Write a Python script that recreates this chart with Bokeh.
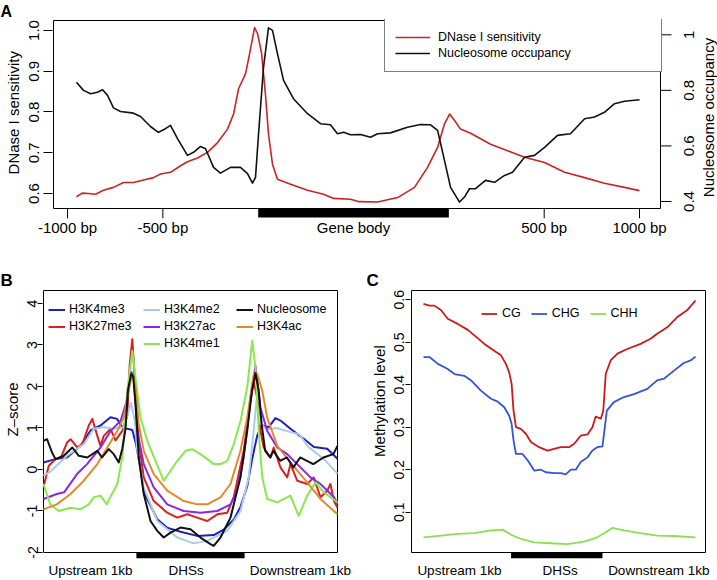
import math
from bokeh.plotting import figure
from bokeh.models import Range1d, Legend, LegendItem, Title
from bokeh.core.properties import value
from bokeh.layouts import column, row
from bokeh.embed import file_html
from bokeh.resources import INLINE

FONT = "Liberation Sans"

# ---------------- Panel A data (x: 0..1000 upstream, 1000..2000 gene body, 2000..3000 downstream)
a_x_dnase = [47, 77, 110, 147, 189, 241, 294, 346, 399, 451, 488, 540, 593, 629, 682, 734, 787, 839, 871, 897,
             934, 955, 981, 997, 1018, 1038, 1054, 1075, 1101, 1170, 1259, 1343, 1395, 1484, 1530, 1626, 1731, 1820,
             1888, 1941, 1977, 2004, 2030, 2061, 2114, 2219, 2308, 2397, 2502, 2607, 2712, 2816, 2921, 3000]
a_dnase = [0.592, 0.601, 0.600, 0.598, 0.608, 0.615, 0.627, 0.627, 0.633, 0.639, 0.648, 0.652, 0.668, 0.678, 0.687,
           0.701, 0.725, 0.758, 0.795, 0.857, 0.894, 0.943, 1.007, 0.992, 0.943, 0.844, 0.746, 0.672, 0.635, 0.623,
           0.608, 0.598, 0.588, 0.586, 0.580, 0.579, 0.590, 0.615, 0.664, 0.713, 0.771, 0.795, 0.779, 0.758, 0.748,
           0.721, 0.705, 0.689, 0.676, 0.652, 0.639, 0.625, 0.615, 0.607]
a_x_nuc = [47, 84, 121, 157, 184, 210, 241, 278, 346, 383, 435, 477, 514, 540, 577, 629, 661, 698, 724, 766, 802,
           855, 907, 944, 970, 986, 1002, 1028, 1054, 1075, 1101, 1133, 1185, 1259, 1327, 1379, 1416, 1448, 1484,
           1537, 1589, 1626, 1694, 1783, 1851, 1904, 1941, 1977, 2009, 2056, 2082, 2108, 2140, 2192, 2240, 2292,
           2334, 2397, 2449, 2502, 2570, 2638, 2712, 2764, 2816, 2869, 2921, 3000]
a_nuc = [0.829, 0.800, 0.788, 0.793, 0.802, 0.782, 0.737, 0.724, 0.718, 0.706, 0.670, 0.649, 0.662, 0.674, 0.626,
         0.566, 0.577, 0.598, 0.590, 0.523, 0.502, 0.523, 0.523, 0.500, 0.466, 0.487, 0.644, 0.883, 1.025, 1.016,
         0.932, 0.836, 0.770, 0.716, 0.680, 0.676, 0.644, 0.649, 0.640, 0.641, 0.631, 0.644, 0.647, 0.667, 0.677,
         0.676, 0.656, 0.548, 0.451, 0.398, 0.416, 0.446, 0.446, 0.476, 0.469, 0.494, 0.505, 0.559, 0.566, 0.595,
         0.638, 0.644, 0.698, 0.704, 0.721, 0.752, 0.761, 0.766]
a_label_pos = [0, 500, 1500, 2500, 3000]
a_labels = ["-1000 bp", "-500 bp", "Gene body", "500 bp", "1000 bp"]
a_tick_marks = [0, 500, 2500, 3000]
a_gene_body = [1000, 2000]
a_left_ticks = [0.6, 0.7, 0.8, 0.9, 1.0]
a_left_labels = ["0.6", "0.7", "0.8", "0.9", "1.0"]
a_right_ticks = [0.4, 0.6, 0.8, 1.0]
a_right_labels = ["0.4", "0.6", "0.8", "1"]

# ---------------- Panel B data (x: % of profile; DHS spans b_dhs)
b_h3k4me3_x = [0, 4, 8, 12.6, 16, 19.4, 22.8, 25, 26.8, 28.5, 30.2, 31.5, 33, 34.1, 36.4, 38.7, 42, 46.6, 52.3, 57.9,
               61.3, 64.8, 67, 69.3, 71, 72.7, 74.4, 76.6, 78.9, 80.6, 84, 88.5, 92, 96.5, 100]
b_h3k4me3 = [0.17, 0.25, 0.29, 0.57, 0.94, 1.06, 1.26, 1.22, 1.02, 0.98, 0.95, 0.6, 0.01, -0.55, -0.87, -1.2, -1.4,
             -1.5, -1.6, -1.58, -1.45, -1.2, -0.9, -0.4, 0.26, 0.82, 1.06, 1.02, 1.24, 1.18, 0.98, 0.74, 0.54, 0.5, 0.26]
b_h3k27me3_x = [0, 1.8, 4.1, 6, 8, 9.2, 11.5, 13.2, 15.4, 16.6, 18.3, 19.4, 20.5, 22.8, 24.5, 26.8, 28.5, 29.3, 30.2,
                31.3, 32.4, 34.1, 37.5, 42.1, 45.5, 48.9, 52.3, 55.7, 59.1, 62.5, 64.7, 68.1, 70.4, 71.5, 72.7, 73.8,
                74.9, 77.2, 78.3, 80.6, 82.9, 84, 86.3, 89.7, 91.9, 94.2, 96.5, 97.6, 98.8, 100]
b_h3k27me3 = [-0.42, 0.09, 0.25, 0.3, 0.65, 0.73, 0.53, 0.61, 1.06, 1.22, 0.81, 0.57, 0.81, 0.98, 0.7, 0.93, 1.3, 2.5,
              3.14, 1.9, 0.69, -0.19, -0.76, -1.04, -1.16, -1.08, -1.16, -1.24, -1.08, -1.04, -0.67, 0.45, 1.65, 2.1,
              1.73, 0.93, 0.53, 0.29, 0.53, 0.05, -0.19, 0.13, -0.27, -0.35, -0.19, -0.67, -0.51, -0.35, -0.76, -0.92]
b_h3k4me2_x = [0, 2.4, 8, 13.7, 17.1, 20.5, 23.9, 27.3, 28.5, 29.8, 31, 31.9, 34.1, 38.7, 45.5, 51.1, 55.7, 62.5, 67,
               69.8, 71.5, 72.4, 73.8, 76.1, 79.5, 84, 87, 90, 95.4, 100]
b_h3k4me2 = [-0.15, -0.05, 0.33, 0.61, 0.98, 1.02, 0.98, 1.02, 1.3, 1.6, 1.2, 0.45, -0.43, -1.24, -1.64, -1.78, -1.72,
             -1.48, -1.0, -0.19, 0.93, 1.65, 1.09, 0.97, 1.0, 0.9, 0.85, 0.55, 0.25, -0.1]
b_h3k27ac_x = [0, 4.5, 7, 11.4, 14.8, 19.4, 22.8, 26.2, 28.5, 29.8, 30.6, 31.9, 34.1, 37.5, 42.1, 47.7, 53.4, 59.1,
               63.6, 65.8, 68.1, 70.4, 72.1, 73.8, 76.1, 79.5, 82.9, 86.3, 90.8, 94.2, 98.8, 100]
b_h3k27ac = [-0.71, -0.59, -0.55, -0.11, 0.13, 0.53, 0.93, 1.17, 1.7, 2.35, 2.3, 0.93, 0.13, -0.43, -0.84, -1.0,
             -1.04, -1.0, -0.84, -0.51, 0.29, 1.73, 2.5, 1.49, 0.93, 0.53, 0.37, 0.13, -0.19, -0.35, -0.67, -0.83]
b_h3k4me1_x = [0, 2.3, 5.2, 9.2, 12.6, 15.4, 17.1, 19.4, 21.5, 23.2, 25.1, 26.8, 28.5, 30.2, 31.3, 33, 35.3, 38.1,
               40.9, 43.2, 45.5, 48.3, 50.5, 53.4, 55.7, 57.9, 60.2, 62.5, 64.7, 67, 69.3, 71, 72.1, 73.2, 74.4, 76.1,
               79.5, 84, 86.8, 89.7, 92.5, 95.4, 100]
b_h3k4me1 = [-0.35, -0.84, -1.0, -0.92, -0.96, -0.84, -0.67, -0.63, -0.84, -0.6, -0.35, 0.29, 1.9, 2.86, 2.2, 1.25,
             0.69, 0.21, -0.27, -0.03, 0.21, 0.45, 0.49, 0.37, 0.25, 0.13, 0.13, 0.21, 0.61, 1.17, 1.98, 3.1, 2.46,
             0.93, -0.19, -0.71, -0.79, -0.63, -1.12, -0.63, -0.31, -0.55, -0.79]
b_nuc_x = [0, 1.2, 2.9, 4.1, 6.9, 9.8, 12.0, 14.9, 18.3, 19.9, 22.2, 23.9, 25.6, 26.8, 27.9, 28.7, 29.8, 30.5, 31.4,
           32.4, 34.1, 36.4, 38.7, 40.9, 43.2, 46.6, 50, 53.4, 56.8, 57.9, 60.2, 63.6, 67, 69.3, 70.9, 72.1, 73.2,
           74.2, 75.4, 77.1, 78.2, 80.5, 82.8, 85, 87.3, 89.6, 91.8, 95.2, 98.6, 100]
b_nuc = [0.69, 0.73, 0.41, 0.25, 0.33, 0.53, 0.33, 0.29, 0.45, 0.29, 0.49, 0.37, 0.17, 0.5, 0.98, 1.9, 2.3, 2.25, 1.5,
         0.29, -0.59, -1.24, -1.48, -1.64, -1.52, -1.4, -1.44, -1.64, -1.8, -1.84, -1.64, -1.16, -0.19, 0.93, 1.9,
         2.32, 1.9, 1.09, 0.45, 0.29, 0.45, 0.21, 0.29, 0.05, 0.29, 0.21, 0.13, 0.29, 0.37, 0.57]
b_h3k4ac_x = [0, 4.5, 9.2, 13.7, 18.3, 21.7, 25.1, 27.3, 28.9, 30.2, 31.3, 32.4, 34.1, 37.5, 42.1, 47.7, 52.3, 55.7,
              60.2, 63.6, 67, 69.3, 71.5, 72.7, 74.4, 76.1, 79.5, 84, 89.7, 94.2, 100]
b_h3k4ac = [-0.96, -0.84, -0.59, -0.27, 0.13, 0.53, 0.93, 1.25, 1.9, 2.3, 2.0, 1.09, 0.45, -0.11, -0.51, -0.76, -0.84,
            -0.84, -0.67, -0.35, 0.45, 1.25, 2.3, 2.3, 1.9, 1.25, 0.57, 0.17, -0.31, -0.71, -1.08]
b_dhs = [31.6, 68.4]
b_yticks = [-2, -1, 0, 1, 2, 3, 4]
b_label_pos = [16, 48.5, 87.4]
bc_labels = ["Upstream 1kb", "DHSs", "Downstream 1kb"]

# ---------------- Panel C data
c_cg_x = [0, 2.2, 4.0, 6.5, 8.9, 12.6, 16.3, 18.7, 22.4, 26.0, 28.5, 30.3, 31.5, 32.4, 33.1, 34.0, 35.8, 37.7, 39.5,
          42.5, 45.6, 48.0, 50.5, 53.5, 55.4, 57.8, 60.3, 62.1, 63.3, 65.2, 66.1, 67.0, 68.8, 71.3, 74.9, 79.8, 83.5,
          85.9, 89.6, 93.3, 96.9, 100]
c_cg = [0.59, 0.586, 0.586, 0.575, 0.555, 0.543, 0.529, 0.516, 0.496, 0.48, 0.469, 0.449, 0.429, 0.402, 0.339, 0.3,
        0.296, 0.284, 0.265, 0.253, 0.245, 0.249, 0.253, 0.253, 0.261, 0.28, 0.283, 0.3, 0.325, 0.32, 0.339, 0.425,
        0.457, 0.473, 0.484, 0.496, 0.508, 0.52, 0.535, 0.559, 0.575, 0.598]
c_chg_x = [0, 2.2, 5.3, 8.9, 11.4, 15.0, 17.5, 21.1, 24.8, 27.3, 29.7, 31.5, 32.4, 33.1, 34.0, 36.4, 38.3, 40.7, 43.2,
           45.0, 48.0, 50.5, 52.3, 54.2, 56.0, 57.8, 60.3, 62.1, 63.9, 65.8, 67.4, 70.0, 73.7, 77.4, 82.3, 85.9, 88.4,
           92.1, 95.7, 98.2, 100]
c_chg = [0.465, 0.465, 0.449, 0.437, 0.425, 0.421, 0.41, 0.386, 0.367, 0.36, 0.347, 0.327, 0.308, 0.269, 0.237, 0.237,
         0.222, 0.198, 0.2, 0.194, 0.192, 0.192, 0.189, 0.2, 0.2, 0.218, 0.229, 0.245, 0.253, 0.255, 0.339, 0.359,
         0.371, 0.378, 0.39, 0.41, 0.414, 0.433, 0.451, 0.457, 0.466]
c_chh_x = [0, 6.5, 12.6, 18.7, 24.8, 29.1, 32.2, 35.8, 40.7, 46.8, 52.9, 59.0, 63.9, 67.0, 69.4, 73.7, 79.8, 85.9,
           92.1, 100]
c_chh = [0.041, 0.045, 0.049, 0.051, 0.057, 0.059, 0.047, 0.037, 0.029, 0.027, 0.025, 0.031, 0.041, 0.053, 0.063,
         0.057, 0.051, 0.045, 0.044, 0.041]
c_dhs = [32.2, 65.8]
c_yticks = [0.1, 0.2, 0.3, 0.4, 0.5, 0.6]
c_ylabels = ["0.1", "0.2", "0.3", "0.4", "0.5", "0.6"]
c_label_pos = [13.2, 50.2, 86.5]

NBSP = "\u00a0"


# ---------------- helpers
def rng(v0, v1, npx, pad_lo, pad_hi):
    u = (v1 - v0) / npx
    return Range1d(v0 - pad_lo * u, v1 + pad_hi * u)


def make_fig(width, height, left, top, fw, fh, xr, yr):
    p = figure(width=width, height=height, x_range=xr, y_range=yr, output_backend="svg",
               toolbar_location=None, min_border_left=left, min_border_top=top,
               min_border_right=width - left - fw, min_border_bottom=height - top - fh)
    p.xgrid.visible = False
    p.ygrid.visible = False
    p.outline_line_color = None
    p.background_fill_color = "white"
    p.border_fill_color = "white"
    return p


def style_y(ax, ticks, labels, size, tick_out, standoff, title, title_standoff):
    ax.ticker = ticks
    ax.major_label_overrides = {t: l for t, l in zip(ticks, labels)}
    ax.axis_line_color = None
    ax.major_tick_in = 0
    ax.major_tick_out = tick_out
    ax.major_tick_line_color = "black"
    ax.minor_tick_line_color = None
    ax.major_label_orientation = "parallel"
    ax.major_label_standoff = standoff
    ax.major_label_text_font = FONT
    ax.major_label_text_font_size = size
    ax.major_label_text_color = "black"
    ax.axis_label = title
    ax.axis_label_standoff = title_standoff
    ax.axis_label_text_font = FONT
    ax.axis_label_text_font_size = "15px"
    ax.axis_label_text_font_style = "normal"
    ax.axis_label_text_color = "black"


def style_x(ax, ticks, labels, size, standoff):
    ax.ticker = ticks
    ax.major_label_overrides = {t: l for t, l in zip(ticks, labels)}
    ax.axis_line_color = None
    ax.major_tick_in = 0
    ax.major_tick_out = 0
    ax.major_tick_line_color = None
    ax.minor_tick_line_color = None
    ax.major_label_standoff = standoff
    ax.major_label_text_font = FONT
    ax.major_label_text_font_size = size
    ax.major_label_text_color = "black"


def letter(p, s, offset, size):
    p.add_layout(Title(text=s, align="left", offset=offset, standoff=0, text_font=FONT,
                       text_font_size=size, text_font_style="bold", text_color="black"), "above")


def legend(items, loc, orientation, glyph_w, standoff, pad, lh, label_w, spacing=0, border=None):
    lg = Legend(items=items, location=loc, orientation=orientation, glyph_width=glyph_w,
                glyph_height=lh, label_height=lh, label_width=label_w, label_standoff=standoff,
                padding=pad, spacing=spacing, label_text_font=FONT, label_text_font_size="12.5px",
                label_text_color="black", margin=0)
    if border is None:
        lg.border_line_color = None
        lg.background_fill_alpha = 0
    else:
        lg.border_line_color = border
        lg.border_line_width = 1
        lg.background_fill_color = "white"
        lg.background_fill_alpha = 1
    return lg


# ---------------- Panel A
A_BOX_X = (-73.5, 3110.0)
A_BOX_W = 607
A_RIGHT = 57          # px of frame kept right of the box for the right-hand scale
A_BOX_DN = (0.5632, 1.0245)
A_BOX_NUC = (0.3748, 1.0515)
A_BOX_H = 188
A_BELOW = 10
a_u = (A_BOX_DN[1] - A_BOX_DN[0]) / A_BOX_H
a_nu = (A_BOX_NUC[1] - A_BOX_NUC[0]) / A_BOX_H
a_xu = (A_BOX_X[1] - A_BOX_X[0]) / A_BOX_W
A_FW = A_BOX_W + 1 + A_RIGHT
A_FH = A_BOX_H + A_BELOW + 1

pA = make_fig(717, 262, 52, 19, A_FW, A_FH,
              rng(A_BOX_X[0], A_BOX_X[1], A_BOX_W, 1, A_RIGHT),
              rng(A_BOX_DN[0], A_BOX_DN[1], A_BOX_H, A_BELOW, 1))
pA.extra_y_ranges = {"nuc": rng(A_BOX_NUC[0], A_BOX_NUC[1], A_BOX_H, A_BELOW, 1)}

pA.quad(left=[A_BOX_X[0]], right=[A_BOX_X[1]], bottom=[A_BOX_DN[0]], top=[A_BOX_DN[1]],
        fill_color=None, line_color="black", line_width=1)
pA.quad(left=[a_gene_body[0]], right=[a_gene_body[1]], top=[A_BOX_DN[0]],
        bottom=[A_BOX_DN[0] - 9 * a_u], fill_color="black", line_color=None)
pA.segment(x0=a_tick_marks, x1=a_tick_marks, y0=[A_BOX_DN[0]] * len(a_tick_marks),
           y1=[A_BOX_DN[0] - A_BELOW * a_u] * len(a_tick_marks), line_color="black", line_width=1)
r_dn = pA.line(a_x_dnase, a_dnase, line_color="#CD2323", line_width=1.6, line_join="round")
r_nu = pA.line(a_x_nuc, a_nuc, line_color="#111111", line_width=1.6, line_join="round", y_range_name="nuc")

# right-hand scale (nucleosome occupancy), drawn in the strip right of the box
nr = len(a_right_ticks)
pA.segment(x0=[A_BOX_X[1]] * nr, x1=[A_BOX_X[1] + 11 * a_xu] * nr, y0=a_right_ticks, y1=a_right_ticks,
           line_color="black", line_width=1, y_range_name="nuc")
pA.text(x=[A_BOX_X[1] + 28 * a_xu] * nr, y=a_right_ticks, text=a_right_labels, angle=math.pi / 2,
        text_font=value(FONT), text_font_size="15px", text_color="black", text_align="center",
        text_baseline="middle", y_range_name="nuc")
pA.text(x=[A_BOX_X[1] + 48 * a_xu], y=[A_BOX_NUC[1] - 97 * a_nu], text=["Nucleosome occupancy"],
        angle=math.pi / 2, text_font=value(FONT), text_font_size="15px", text_color="black",
        text_align="center", text_baseline="middle", y_range_name="nuc")

style_y(pA.yaxis[0], a_left_ticks, a_left_labels, "15px", 9, 4, NBSP * 3 + "DNase I sensitivity", 5)
style_x(pA.xaxis[0], a_label_pos, a_labels, "15px", 0)
letter(pA, "A", -52, "16px")
pA.add_layout(legend([LegendItem(label="DNase I sensitivity", renderers=[r_dn]),
                      LegendItem(label="Nucleosome occupancy", renderers=[r_nu])],
                     (332, A_FH - 1 - 52), "vertical", 35, 8, 10, 16, 213, border="black"))

# ---------------- Panel B
B_BOX_Y = (-2.0, 4.313)
B_BOX_H = 262
B_BOX_W = 294
b_u = (B_BOX_Y[1] - B_BOX_Y[0]) / B_BOX_H
B_FH = B_BOX_H + 7
pB = make_fig(365, 318, 42, 27, B_BOX_W + 2, B_FH,
              rng(0, 100, B_BOX_W, 1, 1), rng(B_BOX_Y[0], B_BOX_Y[1], B_BOX_H, 6, 1))
pB.quad(left=[0], right=[100], bottom=[B_BOX_Y[0]], top=[B_BOX_Y[1]], fill_color=None,
        line_color="black", line_width=1)
pB.quad(left=[b_dhs[0]], right=[b_dhs[1]], top=[B_BOX_Y[0]], bottom=[B_BOX_Y[0] - 6 * b_u],
        fill_color="black", line_color=None)

b_series = [
    ("H3K4me3", b_h3k4me3_x, b_h3k4me3, "#1F1FC8"),
    ("H3K27me3", b_h3k27me3_x, b_h3k27me3, "#DE1F1F"),
    ("H3K4me2", b_h3k4me2_x, b_h3k4me2, "#A9CDE3"),
    ("H3K27ac", b_h3k27ac_x, b_h3k27ac, "#8E26E6"),
    ("H3K4me1", b_h3k4me1_x, b_h3k4me1, "#86EA4E"),
    ("H3K4ac", b_h3k4ac_x, b_h3k4ac, "#E3892B"),
    ("Nucleosome", b_nuc_x, b_nuc, "#111111"),
]
b_r = {}
for name, xs, ys, col in b_series:
    b_r[name] = pB.line(xs, ys, line_color=col, line_width=2, line_join="round")

style_y(pB.yaxis[0], b_yticks, [str(t) for t in b_yticks], "14px", 5, 0, NBSP * 7 + "Z\u2013score", 4)
style_x(pB.xaxis[0], b_label_pos, bc_labels, "13.5px", 4)
letter(pB, "B", -42, "17px")

b_cols = [(["H3K4me3", "H3K27me3"], 6), (["H3K4me2", "H3K27ac", "H3K4me1"], 101), (["Nucleosome", "H3K4ac"], 194)]
for names, vx in b_cols:
    h = 10 + 17 * len(names)
    pB.add_layout(legend([LegendItem(label=n, renderers=[b_r[n]]) for n in names],
                         (vx, B_FH - 1.5 - h), "vertical", 17, 4, 5, 17, 20))

# ---------------- Panel C
C_BOX_X = (-4.41, 103.68)
C_BOX_W = 294
C_BOX_Y = (0.0052, 0.6216)
C_BOX_H = 262
c_u = (C_BOX_Y[1] - C_BOX_Y[0]) / C_BOX_H
C_FH = C_BOX_H + 7
pC = make_fig(352, 318, 45, 27, C_BOX_W + 2, C_FH,
              rng(C_BOX_X[0], C_BOX_X[1], C_BOX_W, 1, 1), rng(C_BOX_Y[0], C_BOX_Y[1], C_BOX_H, 6, 1))
pC.quad(left=[C_BOX_X[0]], right=[C_BOX_X[1]], bottom=[C_BOX_Y[0]], top=[C_BOX_Y[1]], fill_color=None,
        line_color="black", line_width=1)
pC.quad(left=[c_dhs[0]], right=[c_dhs[1]], top=[C_BOX_Y[0]], bottom=[C_BOX_Y[0] - 6 * c_u],
        fill_color="black", line_color=None)
r_cg = pC.line(c_cg_x, c_cg, line_color="#CC1A1A", line_width=1.8, line_join="round")
r_chg = pC.line(c_chg_x, c_chg, line_color="#3355DD", line_width=1.8, line_join="round")
r_chh = pC.line(c_chh_x, c_chh, line_color="#8BE04E", line_width=1.8, line_join="round")

style_y(pC.yaxis[0], c_yticks, c_ylabels, "14px", 5, 1, NBSP * 11 + "Methylation level", 4)
style_x(pC.xaxis[0], c_label_pos, bc_labels, "13.5px", 4)
letter(pC, "C", -44, "17px")
pC.add_layout(legend([LegendItem(label="CG", renderers=[r_cg]),
                      LegendItem(label="CHG", renderers=[r_chg]),
                      LegendItem(label="CHH", renderers=[r_chh])],
                     (71, C_FH - 1.5 - 31), "horizontal", 16, 5, 7, 17, 10, spacing=10))

layout = column(pA, row(pB, pC))
open("out.html", "w").write(file_html(layout, INLINE, title="Figure"))
